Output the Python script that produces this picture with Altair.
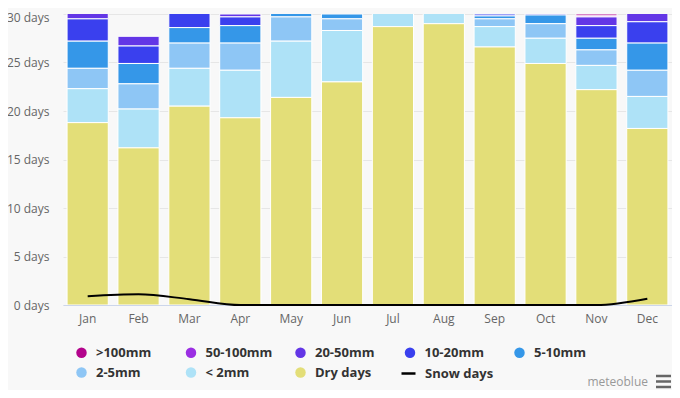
import altair as alt
import pandas as pd

months = ["Jan", "Feb", "Mar", "Apr", "May", "Jun", "Jul", "Aug", "Sep", "Oct", "Nov", "Dec"]

dry_days = [18.8, 16.2, 20.5, 19.3, 21.4, 23.0, 28.7, 29.0, 26.6, 24.9, 22.2, 18.2]
lt_2mm = [3.5, 4.0, 3.9, 4.9, 5.8, 5.3, 2.3, 2.0, 2.1, 2.6, 2.5, 3.3]
mm_2_5 = [2.1, 2.6, 2.6, 2.8, 2.5, 1.2, 0.0, 0.0, 0.8, 1.5, 1.6, 2.7]
mm_5_10 = [2.8, 2.1, 1.6, 1.8, 0.9, 0.5, 0.0, 0.0, 0.3, 0.9, 1.2, 2.8]
mm_10_20 = [2.3, 1.8, 1.8, 0.9, 0.4, 0.0, 0.0, 0.0, 0.2, 0.8, 1.3, 2.2]
mm_20_50 = [1.5, 1.0, 0.6, 0.3, 0.0, 0.0, 0.0, 0.0, 0.0, 0.3, 0.9, 1.8]
mm_50_100 = [0.0, 0.0, 0.0, 0.0, 0.0, 0.0, 0.0, 0.0, 0.0, 0.0, 0.1, 0.0]
gt_100mm = [0.0, 0.0, 0.0, 0.0, 0.0, 0.0, 0.0, 0.0, 0.0, 0.0, 0.2, 0.0]

snow_days = [0.9, 1.1, 0.6, 0.0, 0.0, 0.0, 0.0, 0.0, 0.0, 0.0, 0.0, 0.65]

categories = [">100mm", "50-100mm", "20-50mm", "10-20mm", "5-10mm", "2-5mm", "< 2mm", "Dry days"]
colors = ["#b3048c", "#9b2fe3", "#6336e6", "#3a40ee", "#3597e8", "#8ec6f5", "#aee2f7", "#e3de78"]
series = [gt_100mm, mm_50_100, mm_20_50, mm_10_20, mm_5_10, mm_2_5, lt_2mm, dry_days]

rows = []
for ci, (cat, vals) in enumerate(zip(categories, series)):
    for m, v in zip(months, vals):
        if v > 0:
            rows.append({"month": m, "category": cat, "days": v, "stack": len(categories) - 1 - ci})
bars_df = pd.DataFrame(rows)

snow_df = pd.DataFrame({"month": months, "snow": snow_days, "series": "Snow days"})

FONT = "Open Sans"

x_enc = alt.X(
    "month:N",
    sort=months,
    scale=alt.Scale(paddingInner=0.19, paddingOuter=0.08),
    axis=alt.Axis(title=None, labelAngle=0, ticks=False, labelPadding=8,
                  domainColor="#ccd6eb", labelColor="#666666", labelFontSize=12, labelFont=FONT),
)

y_scale = alt.Scale(domain=[0, 30], nice=False)

bars = alt.Chart(bars_df).mark_bar(clip=True, stroke="white", strokeWidth=1).encode(
    x=x_enc,
    y=alt.Y("sum(days):Q", scale=y_scale, stack="zero",
            axis=alt.Axis(title=None, values=[0, 5, 10, 15, 20, 25, 30], labelExpr="datum.value + ' days'",
                          domain=False, ticks=False, labelPadding=14, gridColor="#e6e6e6",
                          labelOffset=alt.condition("datum.value == 30", alt.value(3), alt.value(0)),
                          labelColor="#666666", labelFontSize=12, labelFont=FONT)),
    fill=alt.Fill("category:N", scale=alt.Scale(domain=categories, range=colors),
                  legend=alt.Legend(title=None, orient="none", legendX=12, legendY=332,
                                    direction="horizontal", columns=5, gridAlign="all",
                                    symbolType="circle", symbolSize=110, symbolStrokeWidth=0,
                                    symbolOpacity=1, labelFont=FONT, labelFontSize=13,
                                    labelFontWeight="bold", labelColor="#333333", labelOffset=8,
                                    columnPadding=21.5, rowPadding=6, padding=0)),
    order=alt.Order("stack:Q", sort="ascending"),
)

line = alt.Chart(snow_df).mark_line(interpolate="monotone", strokeWidth=2).encode(
    x=alt.X("month:N", sort=months),
    y=alt.Y("snow:Q", scale=y_scale),
    stroke=alt.Stroke("series:N", scale=alt.Scale(domain=["Snow days"], range=["#000000"]),
                      legend=alt.Legend(title=None, orient="none", legendX=337, legendY=351,
                                        symbolType="stroke", symbolSize=196, symbolStrokeWidth=2.5,
                                        labelFont=FONT, labelFontSize=13, labelFontWeight="bold",
                                        labelColor="#333333", labelOffset=8, padding=0)),
)

brand = alt.Chart(pd.DataFrame({"t": ["meteoblue"]})).mark_text(
    align="right", baseline="middle", font=FONT, fontSize=12, color="#999999"
).encode(text="t:N", x=alt.value(585), y=alt.value(368))

icon = [
    alt.Chart(pd.DataFrame({"k": [0]})).mark_rule(strokeWidth=2.5, color="#666666").encode(
        x=alt.value(593), x2=alt.value(608), y=alt.value(yy))
    for yy in (362, 367.5, 373)
]

chart = alt.layer(bars, line, brand, *icon).properties(
    width=609, height=291,
    autosize=alt.AutoSizeParams(type="none"),
    padding={"left": 55, "top": 6, "right": 0, "bottom": 85},
).configure(background="#f8f8f8").configure_view(stroke=None)

chart.save("out.html", embed_options={"renderer": "svg", "actions": False})
